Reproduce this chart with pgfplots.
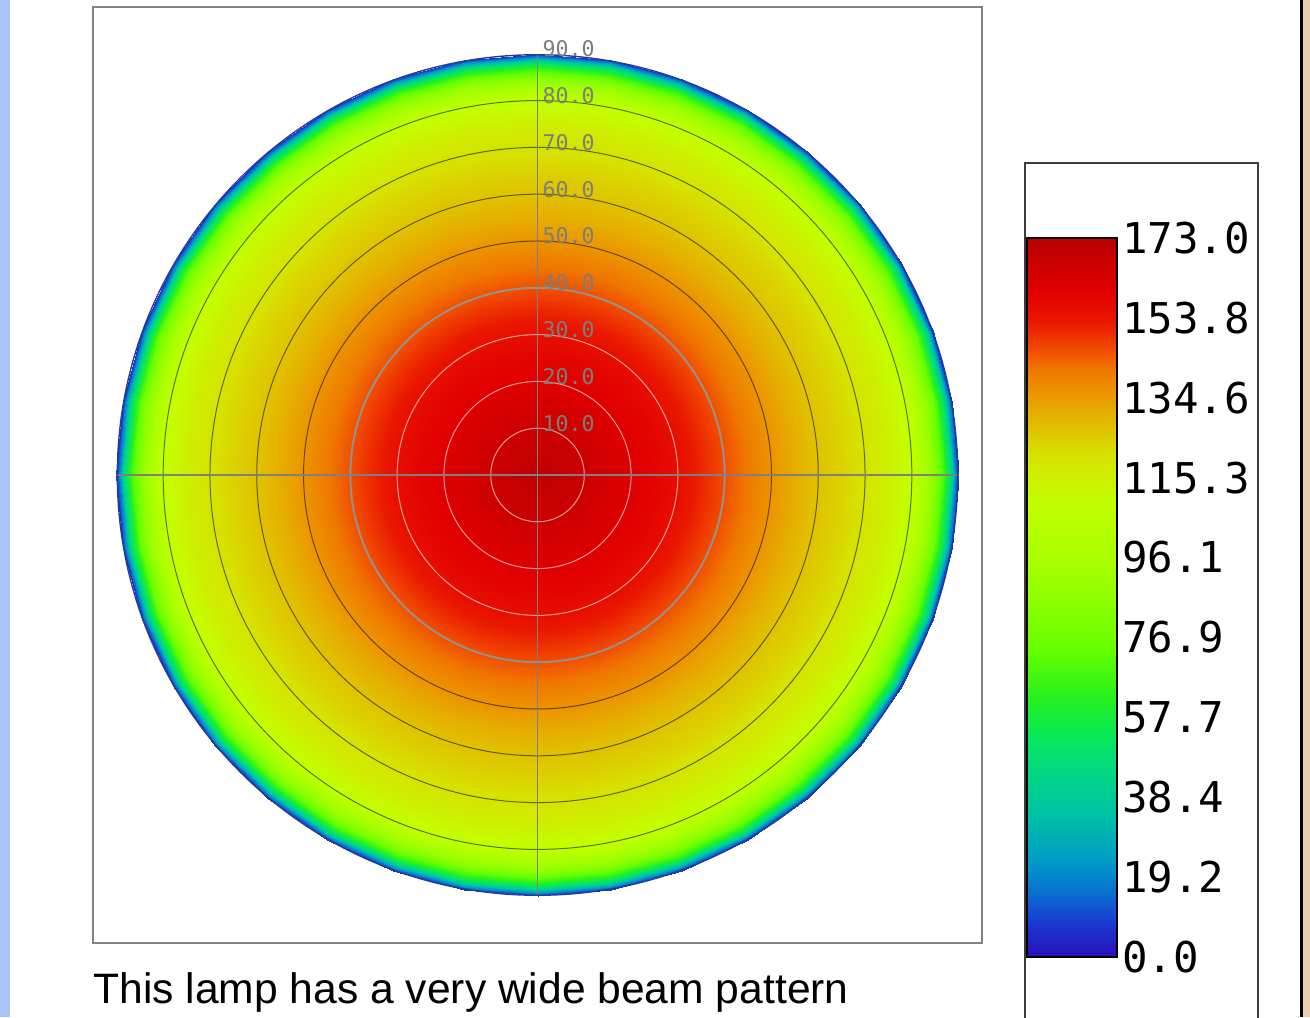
\documentclass[border=0pt]{standalone}
\usepackage{pgfplots}
\usepackage{pgfplotstable}
\pgfplotsset{compat=1.18}
\usepackage{fontspec}
\setmainfont{Liberation Sans}
\newfontfamily\monofont{DejaVu Sans Mono}
\definecolor{framegray}{RGB}{130,130,130}
\definecolor{crossgray}{RGB}{128,128,128}
\definecolor{ring40}{RGB}{150,145,140}
\definecolor{edgeblue}{RGB}{40,60,150}
\definecolor{labgray}{RGB}{125,125,125}
\definecolor{leftblue}{RGB}{170,196,245}
\definecolor{peach}{RGB}{236,205,172}
\definecolor{boxgray}{RGB}{60,60,60}

\pgfplotstableread{
a r v
0 0 171
0 5 169
0 10 167
0 15 164
0 20 161
0 25 159
0 30 156
0 35 151
0 40 146
0 45 141
0 50 136
0 55 131
0 60 127
0 65 124
0 70 120
0 75 116
0 80 109
0 82 100
0 84 90
0 85 83
0 86 75
0 87 65
0 88 51
0 88.7 38
0 89.3 22
0 90 6
10 0 171
10 5 169
10 10 167
10 15 164
10 20 161
10 25 159
10 30 156
10 35 151
10 40 146
10 45 141
10 50 136
10 55 131
10 60 127
10 65 124
10 70 120
10 75 116
10 80 109
10 82 100
10 84 90
10 85 83
10 86 75
10 87 65
10 88 51
10 88.7 38
10 89.3 22
10 90 6
20 0 171
20 5 169
20 10 167
20 15 164
20 20 161
20 25 159
20 30 156
20 35 151
20 40 146
20 45 141
20 50 136
20 55 131
20 60 127
20 65 124
20 70 120
20 75 116
20 80 109
20 82 100
20 84 90
20 85 83
20 86 75
20 87 65
20 88 51
20 88.7 38
20 89.3 22
20 90 6
30 0 171
30 5 169
30 10 167
30 15 164
30 20 161
30 25 159
30 30 156
30 35 151
30 40 146
30 45 141
30 50 136
30 55 131
30 60 127
30 65 124
30 70 120
30 75 116
30 80 109
30 82 100
30 84 90
30 85 83
30 86 75
30 87 65
30 88 51
30 88.7 38
30 89.3 22
30 90 6
40 0 171
40 5 169
40 10 167
40 15 164
40 20 161
40 25 159
40 30 156
40 35 151
40 40 146
40 45 141
40 50 136
40 55 131
40 60 127
40 65 124
40 70 120
40 75 116
40 80 109
40 82 100
40 84 90
40 85 83
40 86 75
40 87 65
40 88 51
40 88.7 38
40 89.3 22
40 90 6
50 0 171
50 5 169
50 10 167
50 15 164
50 20 161
50 25 159
50 30 156
50 35 151
50 40 146
50 45 141
50 50 136
50 55 131
50 60 127
50 65 124
50 70 120
50 75 116
50 80 109
50 82 100
50 84 90
50 85 83
50 86 75
50 87 65
50 88 51
50 88.7 38
50 89.3 22
50 90 6
60 0 171
60 5 169
60 10 167
60 15 164
60 20 161
60 25 159
60 30 156
60 35 151
60 40 146
60 45 141
60 50 136
60 55 131
60 60 127
60 65 124
60 70 120
60 75 116
60 80 109
60 82 100
60 84 90
60 85 83
60 86 75
60 87 65
60 88 51
60 88.7 38
60 89.3 22
60 90 6
70 0 171
70 5 169
70 10 167
70 15 164
70 20 161
70 25 159
70 30 156
70 35 151
70 40 146
70 45 141
70 50 136
70 55 131
70 60 127
70 65 124
70 70 120
70 75 116
70 80 109
70 82 100
70 84 90
70 85 83
70 86 75
70 87 65
70 88 51
70 88.7 38
70 89.3 22
70 90 6
80 0 171
80 5 169
80 10 167
80 15 164
80 20 161
80 25 159
80 30 156
80 35 151
80 40 146
80 45 141
80 50 136
80 55 131
80 60 127
80 65 124
80 70 120
80 75 116
80 80 109
80 82 100
80 84 90
80 85 83
80 86 75
80 87 65
80 88 51
80 88.7 38
80 89.3 22
80 90 6
90 0 171
90 5 169
90 10 167
90 15 164
90 20 161
90 25 159
90 30 156
90 35 151
90 40 146
90 45 141
90 50 136
90 55 131
90 60 127
90 65 124
90 70 120
90 75 116
90 80 109
90 82 100
90 84 90
90 85 83
90 86 75
90 87 65
90 88 51
90 88.7 38
90 89.3 22
90 90 6
}\prof

\begin{document}
\begin{tikzpicture}
\fill[leftblue] (0,0) rectangle (5pt,508.5pt);
\fill[black] (650pt,0) rectangle (651.5pt,508.5pt);
\fill[peach] (651.5pt,0) rectangle (655pt,508.5pt);

\begin{axis}[
  at={(46.5pt,37pt)}, anchor=south west,
  width=444.5pt, height=468pt, scale only axis,
  xmin=-95, xmax=95, ymin=-100, ymax=100,
  xtick=\empty, ytick=\empty,
  axis line style={draw=framegray, line width=1pt},
  colormap={lamp}{rgb255(0)=(40,15,185) rgb255(86)=(25,60,210) rgb255(152)=(10,110,210) rgb255(220)=(0,150,200) rgb255(332)=(0,190,170) rgb255(422)=(0,210,140) rgb255(512)=(5,230,100) rgb255(557)=(15,235,70) rgb255(625)=(40,240,30) rgb255(737)=(100,255,0) rgb255(850)=(140,255,0) rgb255(962)=(170,255,0) rgb255(1097)=(195,255,0) rgb255(1210)=(215,225,0) rgb255(1278)=(225,190,0) rgb255(1345)=(235,155,0) rgb255(1413)=(240,120,0) rgb255(1469)=(240,70,0) rgb255(1525)=(235,25,0) rgb255(1604)=(225,0,0) rgb255(1683)=(200,0,0) rgb255(1730)=(185,0,0)},
  point meta min=0, point meta max=173,
  colorbar,
  colorbar/width=45pt,
  colorbar style={
    at={(parent axis.south east)}, anchor=south west,
    xshift=13.96pt, yshift=-7pt,
    height=359.5pt, scale only axis,
    axis line style={draw=black, line width=0.7pt},
    ytick={0,19.2222,38.4444,57.6667,76.8889,96.1111,115.3333,134.5556,153.7778,173},
    yticklabels={0.0,19.2,38.4,57.7,76.9,96.1,115.3,134.6,153.8,173.0},
    major tick length=0pt,
    yticklabel style={font=\monofont\fontsize{21.2}{24}\selectfont, text=black, inner sep=0pt, xshift=2.5pt},
  },
]
\addplot[surf, shader=interp, mesh/cols=26, point meta=\thisrow{v}]
  table[x expr={\thisrow{r}*cos(\thisrow{a})}, y expr={\thisrow{r}*sin(\thisrow{a})}] {\prof};
\addplot[surf, shader=interp, mesh/cols=26, point meta=\thisrow{v}]
  table[x expr={-\thisrow{r}*cos(\thisrow{a})}, y expr={\thisrow{r}*sin(\thisrow{a})}] {\prof};
\addplot[surf, shader=interp, mesh/cols=26, point meta=\thisrow{v}]
  table[x expr={-\thisrow{r}*cos(\thisrow{a})}, y expr={-\thisrow{r}*sin(\thisrow{a})}] {\prof};
\addplot[surf, shader=interp, mesh/cols=26, point meta=\thisrow{v}]
  table[x expr={\thisrow{r}*cos(\thisrow{a})}, y expr={-\thisrow{r}*sin(\thisrow{a})}] {\prof};

\draw[white, opacity=0.6, line width=0.5pt] (0,0) circle[radius=10];
\draw[white, opacity=0.6, line width=0.5pt] (0,0) circle[radius=20];
\draw[white, opacity=0.6, line width=0.5pt] (0,0) circle[radius=30];
\draw[ring40, line width=1pt] (0,0) circle[radius=40];
\draw[black, opacity=0.55, line width=0.5pt] (0,0) circle[radius=50];
\draw[black, opacity=0.55, line width=0.5pt] (0,0) circle[radius=60];
\draw[black, opacity=0.55, line width=0.5pt] (0,0) circle[radius=70];
\draw[black, opacity=0.55, line width=0.5pt] (0,0) circle[radius=80];
\draw[crossgray, line width=0.9pt] (-90,0) -- (90,0);
\draw[crossgray, line width=0.9pt] (0,-90) -- (0,90);
\draw[edgeblue, line width=0.7pt] (0,0) circle[radius=89.8];

\node[anchor=base west, inner sep=0pt, text=labgray, font=\monofont\fontsize{10.8}{12}\selectfont, yshift=-1.5pt] at (1,10) {10.0};
\node[anchor=base west, inner sep=0pt, text=labgray, font=\monofont\fontsize{10.8}{12}\selectfont, yshift=-1.5pt] at (1,20) {20.0};
\node[anchor=base west, inner sep=0pt, text=labgray, font=\monofont\fontsize{10.8}{12}\selectfont, yshift=-1.5pt] at (1,30) {30.0};
\node[anchor=base west, inner sep=0pt, text=labgray, font=\monofont\fontsize{10.8}{12}\selectfont, yshift=-1.5pt] at (1,40) {40.0};
\node[anchor=base west, inner sep=0pt, text=labgray, font=\monofont\fontsize{10.8}{12}\selectfont, yshift=-1.5pt] at (1,50) {50.0};
\node[anchor=base west, inner sep=0pt, text=labgray, font=\monofont\fontsize{10.8}{12}\selectfont, yshift=-1.5pt] at (1,60) {60.0};
\node[anchor=base west, inner sep=0pt, text=labgray, font=\monofont\fontsize{10.8}{12}\selectfont, yshift=-1.5pt] at (1,70) {70.0};
\node[anchor=base west, inner sep=0pt, text=labgray, font=\monofont\fontsize{10.8}{12}\selectfont, yshift=-1.5pt] at (1,80) {80.0};
\node[anchor=base west, inner sep=0pt, text=labgray, font=\monofont\fontsize{10.8}{12}\selectfont, yshift=-1.5pt] at (1,90) {90.0};
\end{axis}

\draw[boxgray, line width=1pt] (512.5pt,-6pt) rectangle (629pt,427pt);
\node[anchor=base west, inner sep=0pt, font=\fontsize{21.3}{25}\selectfont] at (46.5pt,7pt) {This lamp has a very wide beam pattern};

\pgfresetboundingbox
\path[use as bounding box] (0,0) rectangle (655pt,508.5pt);
\end{tikzpicture}
\end{document}
